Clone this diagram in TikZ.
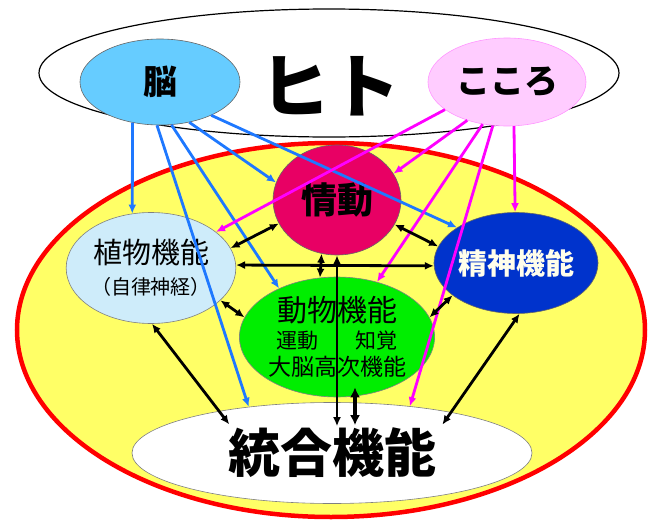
\documentclass[tikz,border=0pt]{standalone}
\usepackage{fontspec}
\newfontfamily\jp{Noto Sans CJK JP}
\usetikzlibrary{shapes.geometric,arrows.meta,calc}
\definecolor{nouBlue}{RGB}{102,204,255}
\definecolor{kokoroPink}{RGB}{255,204,255}
\definecolor{kokoroLine}{RGB}{255,150,255}
\definecolor{jodoRed}{RGB}{232,0,100}
\definecolor{shokuBlue}{RGB}{206,236,250}
\definecolor{seishinBlue}{RGB}{0,51,204}
\definecolor{dobutsuGreen}{RGB}{0,238,0}
\definecolor{bodyYellow}{RGB}{255,255,102}
\definecolor{arrowBlue}{RGB}{30,120,255}
\definecolor{arrowMag}{RGB}{255,0,255}
\newcommand\fsz[1]{\fontsize{#1}{#1}\selectfont}
\begin{document}
\begin{tikzpicture}[x=1pt,y=-1pt,
  oval/.style={ellipse, inner sep=0pt, align=center, font=\jp},
  barrow/.style={draw=arrowBlue, line width=2.8pt, -{Latex[length=9pt,width=8pt]}},
  marrow/.style={draw=arrowMag, line width=2.8pt, -{Latex[length=9pt,width=8pt]}},
  karrow/.style={draw=black, line width=2.8pt, {Latex[length=9pt,width=8pt]}-{Latex[length=9pt,width=8pt]}},
  lbl/.style={inner sep=0pt, font=\jp}]
\useasboundingbox (0,0) rectangle (657,525);
% outer ellipses
\node[oval, draw=black, line width=1.2pt, fill=white, minimum width=580pt, minimum height=128pt] (hito) at (329,73) {};
\node[oval, draw=red, line width=4.5pt, fill=bodyYellow, minimum width=628pt, minimum height=374pt] (body) at (331,330) {};
% top nodes
\node[oval, draw=black!60, line width=0.6pt, fill=nouBlue, minimum width=160pt, minimum height=86pt] (nou) at (160,82)
  {\fsz{34pt}\bfseries 脳};
\node[oval, draw=kokoroLine, line width=0.6pt, fill=kokoroPink, minimum width=158pt, minimum height=88pt] (kokoro) at (507,82)
  {\fsz{34pt}\bfseries こころ};
\node[lbl] (hitolabel) at (330,86) {\fsz{70pt}\bfseries ヒト};
% inner nodes
\node[oval, draw=black!60, line width=0.6pt, fill=jodoRed, minimum width=128pt, minimum height=110pt] (jodo) at (337,200)
  {\fsz{36pt}\bfseries 情動};
\node[oval, draw=black!50, line width=0.6pt, fill=shokuBlue, minimum width=142pt, minimum height=111pt, font=\jp\fontsize{20pt}{31pt}\selectfont] (shoku) at (151,268)
  {{\fsz{29pt}植物機能}\\（自律神経）};
\node[oval, draw=black!60, line width=0.6pt, fill=seishinBlue, minimum width=125pt, minimum height=101pt, text=white!92!yellow] (seishin) at (516,263)
  {\fsz{29pt}\bfseries 精神機能};
\node[oval, draw=black!50, line width=0.6pt, fill=dobutsuGreen, minimum width=193pt, minimum height=120pt, font=\jp\fontsize{23pt}{27pt}\selectfont] (dobutsu) at (337,337)
  {{\fsz{30pt}動物機能}\\{\fsz{21pt}運動\hspace{38pt}知覚}\\大脳高次機能};
\node[oval, draw=black!50, line width=0.6pt, fill=white, minimum width=400pt, minimum height=101pt] (togo) at (332,453)
  {\fsz{52pt}\bfseries 統合機能};
% blue arrows from 脳
\draw[barrow] (nou.-124) -- (shoku.109);
\draw[barrow] (nou.-94) -- (togo.151);
\draw[barrow] (nou.-75) -- (dobutsu.140);
\draw[barrow] (nou.-54) -- (jodo.164);
\draw[barrow] (nou.-33) -- (seishin.149);
% magenta arrows from こころ
\draw[marrow] (kokoro.-156) -- (shoku.29);
\draw[marrow] (kokoro.-136) -- (jodo.25);
\draw[marrow] (kokoro.-120) -- (dobutsu.54);
\draw[marrow] (kokoro.-108) -- (togo.31);
\draw[marrow] (kokoro.-81) -- (seishin.91);
% black double arrows
\draw[karrow] (shoku.14) -- (jodo.-158);
\draw[karrow] (shoku.2.4) -- (seishin.-178);
\draw[karrow] (jodo.-23) -- (seishin.168);
\draw[karrow] (jodo.-106) -- (dobutsu.106);
\draw[karrow] (shoku.-25) -- (dobutsu.168);
\draw[karrow] (dobutsu.12) -- (seishin.-153);
\draw[karrow] (shoku.-89) -- ([yshift=-15pt]togo.157.5);
\draw[karrow] (seishin.-86) -- ([yshift=-14pt]togo.21);
\draw[karrow] (jodo.south) -- ($(togo.north)+(5,24)$);
\draw[draw=black, line width=3.8pt, {Latex[length=10pt,width=10pt]}-{Latex[length=10pt,width=10pt]}] ($(dobutsu.south)+(18,-10)$) -- ($(togo.north)+(23,23)$);
\end{tikzpicture}
\end{document}
